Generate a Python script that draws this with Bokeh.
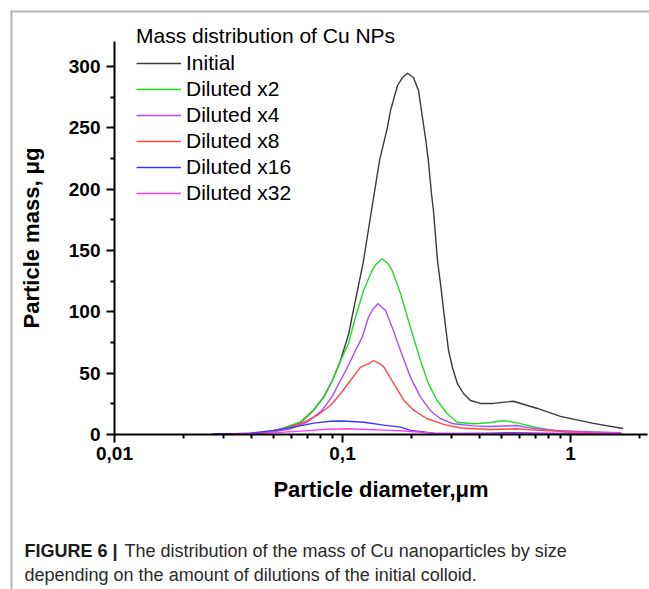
from bokeh.plotting import figure
from bokeh.models import (Range1d, FixedTicker, CustomJSTickFormatter, Legend, LegendItem,
                          Label, BoxAnnotation)
from bokeh.embed import file_html
from bokeh.resources import INLINE

# ---------------- data ----------------
d_initial = [0.027, 0.0395, 0.0469, 0.055, 0.0655, 0.0746, 0.0826, 0.0903, 0.098, 0.1066,
             0.110, 0.118, 0.1237, 0.134, 0.1454, 0.1574, 0.1624, 0.1743, 0.1833, 0.193,
             0.2047, 0.2155, 0.222, 0.231, 0.238, 0.2455, 0.2506, 0.261, 0.269, 0.28,
             0.2917, 0.3036, 0.319, 0.3394, 0.364, 0.4027, 0.459, 0.562, 0.716, 0.904,
             1.26, 1.7]
m_initial = [0.4, 0.3, 1.6, 4.9, 9.8, 19.6, 30.2, 44.0, 60.3, 82.3,
             95.4, 123.0, 141.8, 182.6, 223.4, 250.3, 264.1, 284.5, 291.0, 294.5,
             291.0, 280.4, 264.1, 242.1, 223.4, 196.5, 182.6, 141.8, 123.0, 95.4,
             68.5, 54.6, 41.6, 33.4, 27.7, 25.3, 25.3, 27.1, 21.2, 14.7,
             9.0, 4.9]

d_x2 = [0.027, 0.0395, 0.0469, 0.055, 0.0655, 0.0746, 0.0826, 0.0903, 0.098, 0.1062,
        0.114, 0.1237, 0.1348, 0.141, 0.149, 0.1585, 0.1651, 0.1796, 0.1986, 0.2198,
        0.238, 0.26, 0.2875, 0.318, 0.376, 0.44, 0.508, 0.591, 0.716, 0.877,
        1.03, 1.27, 1.67]
m_x2 = [0.4, 0.3, 1.8, 5.2, 10.2, 20.0, 30.5, 44.0, 60.0, 74.2,
        95.4, 117.4, 133.7, 139.2, 143.2, 139.2, 133.7, 115.0, 87.2, 60.3,
        41.6, 27.7, 17.1, 10.0, 8.7, 9.6, 11.4, 9.2, 5.5, 2.7,
        1.1, 0.6, 0.0]

d_x4 = [0.027, 0.0467, 0.0592, 0.0701, 0.0813, 0.0897, 0.098, 0.107, 0.114, 0.122,
        0.130, 0.1365, 0.143, 0.1546, 0.1651, 0.1796, 0.1986, 0.2198, 0.2427, 0.269,
        0.307, 0.376, 0.445, 0.58, 0.71, 0.87, 1.1, 1.67]
m_x4 = [0.3, 1.1, 4.6, 10.0, 19.6, 30.4, 44.0, 57.6, 68.5, 79.3,
        95.6, 102.5, 106.5, 101.0, 87.5, 68.5, 46.7, 30.4, 19.6, 12.8,
        8.7, 7.0, 6.5, 7.3, 4.6, 3.3, 2.4, 1.4]

d_x8 = [0.033, 0.0437, 0.0553, 0.0655, 0.0774, 0.0885, 0.098, 0.1084, 0.12, 0.1297,
        0.137, 0.146, 0.152, 0.168, 0.186, 0.2056, 0.235, 0.278, 0.33, 0.445,
        0.58, 0.73, 1.03, 1.67]
m_x8 = [0.0, 1.1, 4.6, 8.7, 15.5, 23.6, 33.2, 44.0, 54.9, 57.6,
        60.3, 57.6, 54.9, 41.3, 27.7, 19.6, 12.8, 8.2, 5.3, 4.1,
        4.6, 3.3, 1.9, 0.6]

d_x16 = [0.0268, 0.0395, 0.05, 0.061, 0.075, 0.0885, 0.1, 0.124, 0.152, 0.18,
         0.1986, 0.252, 0.33, 0.45, 0.56, 0.72, 1.0, 1.67]
m_x16 = [0.0, 1.1, 3.3, 6.0, 9.2, 10.8, 11.0, 10.0, 7.6, 6.0,
         3.3, 1.1, 0.8, 1.0, 1.4, 1.0, 0.6, 0.3]

d_x32 = [0.031, 0.0467, 0.0655, 0.0858, 0.105, 0.128, 0.162, 0.18, 0.25, 0.3, 0.5,
         0.8, 1.2, 1.67]
m_x32 = [0.0, 1.1, 2.7, 4.3, 4.6, 4.1, 3.3, 3.0, 1.1, 0.6, 0.7, 0.9, 1.1, 1.0]

series_names = ["Initial", "Diluted x2", "Diluted x4", "Diluted x8", "Diluted x16", "Diluted x32"]
series_colors = ["#3a3a3a", "#1fe01f", "#ac4cff", "#ff4a4a", "#3838ff", "#ff3cff"]

x_major_ticks = [0.01, 0.1, 1]
x_minor_ticks = [0.02, 0.03, 0.04, 0.05, 0.06, 0.07, 0.08, 0.09,
                 0.2, 0.3, 0.4, 0.5, 0.6, 0.7, 0.8, 0.9, 2]
y_major_ticks = [0, 50, 100, 150, 200, 250, 300]
y_minor_ticks = [25, 75, 125, 175, 225, 275]

legend_title = "Mass distribution of Cu NPs"
x_label = "Particle diameter,\u03bcm"
y_label = "Particle mass, \u03bcg"
caption_bold = "FIGURE 6 |"
caption_line1 = "The distribution of the mass of Cu nanoparticles by size"
caption_line2 = "depending on the amount of dilutions of the initial colloid."

FONT = "Liberation Sans"

# ---------------- figure (frame spans the whole canvas, axes fixed inside) ----------------
p = figure(width=649, height=589, x_axis_type="log",
           x_range=Range1d(0.003162, 2.221), y_range=Range1d(-126.4, 353.8),
           output_backend="svg", toolbar_location=None,
           min_border_left=0, min_border_right=0, min_border_top=0, min_border_bottom=0)
p.outline_line_color = None
p.xgrid.visible = False
p.ygrid.visible = False
p.background_fill_color = "white"
p.border_fill_color = "white"

series = [(d_initial, m_initial), (d_x2, m_x2), (d_x4, m_x4),
          (d_x8, m_x8), (d_x16, m_x16), (d_x32, m_x32)]
items = []
for (xs, ys), name, col in zip(series, series_names, series_colors):
    r = p.line(xs, ys, line_color=col, line_width=1.4, line_join="round")
    items.append(LegendItem(label=name, renderers=[r]))

# axes
for ax in (p.xaxis[0], p.yaxis[0]):
    ax.axis_line_width = 2
    ax.axis_line_color = "black"
    ax.major_tick_line_width = 2
    ax.minor_tick_line_width = 2
    ax.major_tick_in = 0
    ax.minor_tick_in = 0
    ax.major_tick_out = 8
    ax.minor_tick_out = 4
    ax.major_label_text_font = FONT
    ax.major_label_text_font_style = "bold"
    ax.major_label_text_font_size = "19px"
    ax.major_label_text_color = "black"
    ax.axis_label_text_font = FONT
    ax.axis_label_text_font_style = "bold"
    ax.axis_label_text_font_size = "22px"
    ax.axis_label_text_color = "black"

p.xaxis.ticker = FixedTicker(ticks=x_major_ticks, minor_ticks=x_minor_ticks)
p.xaxis.formatter = CustomJSTickFormatter(
    code="return parseFloat(tick.toPrecision(4)).toString().replace('.', ',');")
p.xaxis.axis_label = x_label
p.xaxis.major_label_standoff = 5
p.xaxis.axis_label_standoff = 13
p.xaxis.fixed_location = 0
p.xaxis.bounds = (0.01, 2.18)

p.yaxis.ticker = FixedTicker(ticks=y_major_ticks, minor_ticks=y_minor_ticks)
p.yaxis.axis_label = y_label
p.yaxis.major_label_standoff = 6
p.yaxis.axis_label_standoff = 22
p.yaxis.fixed_location = 0.01
p.yaxis.bounds = (0, 320)

# legend
legend = Legend(items=items, location=(136, 383), title=legend_title,
                title_text_font=FONT, title_text_font_size="21px",
                title_text_font_style="normal", title_text_color="black",
                label_text_font=FONT, label_text_font_size="21px", label_text_color="black",
                glyph_width=45, glyph_height=26, label_height=26, spacing=0,
                padding=0, margin=0, label_standoff=5, title_standoff=2,
                border_line_color=None, background_fill_alpha=0)
p.add_layout(legend, "center")

# caption
p.add_layout(Label(x=24, y=39, x_units="screen", y_units="screen", text=caption_bold,
                   text_font=FONT, text_font_style="bold", text_font_size="18px",
                   text_color="#1a1a1a", text_baseline="middle"))
p.add_layout(Label(x=124, y=39, x_units="screen", y_units="screen", text=caption_line1,
                   text_font=FONT, text_font_size="18px",
                   text_color="#2a2a2a", text_baseline="middle"))
p.add_layout(Label(x=24, y=15, x_units="screen", y_units="screen", text=caption_line2,
                   text_font=FONT, text_font_size="18px",
                   text_color="#2a2a2a", text_baseline="middle"))

# frame lines around figure+caption
p.add_layout(BoxAnnotation(left=10, right=649, top=10, bottom=12,
                           left_units="canvas", right_units="canvas",
                           top_units="canvas", bottom_units="canvas",
                           fill_color="#b4b4b4", fill_alpha=1, line_color=None))
p.add_layout(BoxAnnotation(left=10, right=12, top=10, bottom=589,
                           left_units="canvas", right_units="canvas",
                           top_units="canvas", bottom_units="canvas",
                           fill_color="#b4b4b4", fill_alpha=1, line_color=None))

open("out.html", "w").write(file_html(p, INLINE))
